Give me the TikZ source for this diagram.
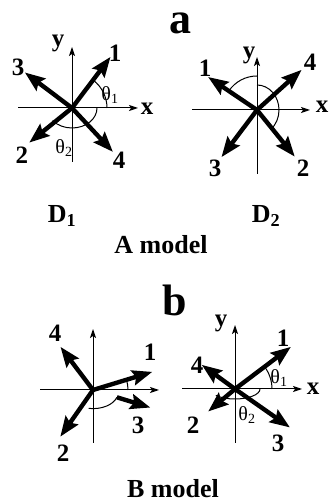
\documentclass[tikz,border=0pt]{standalone}
\usepackage{fontspec}
\setmainfont{Liberation Serif}
\usetikzlibrary{arrows.meta}

\begin{document}
\begin{tikzpicture}[x=1pt, y=1pt,
  vec/.style={line width=4.4pt, -{Stealth[length=20pt, width=15pt, inset=3pt]}},
  ax/.style={line width=1pt, -{Stealth[length=9pt, width=6pt, inset=2pt]}},
  arc/.style={line width=1pt},
  lbl/.style={font=\fontsize{25}{27}\selectfont\bfseries, inner sep=0pt},
  ang/.style={font=\fontsize{20}{22}\selectfont, inner sep=0pt},
  ttl/.style={font=\fontsize{26}{28}\selectfont\bfseries, inner sep=0pt},
  big/.style={font=\fontsize{44}{46}\selectfont\bfseries, inner sep=0pt, anchor=base}]
\useasboundingbox (0,0) rectangle (330,502);

% panel a, D1
\begin{scope}[shift={(72,394)}]
\coordinate (o) at (0,0);
\draw[ax] (-54,0) -- (66,0);
\draw[ax] (0,-54) -- (0,61);
\node[lbl] (x) at (75,-1) {x};
\node[lbl] (y) at (-14,65) {y};
\draw[arc] (35,0) arc[start angle=0, end angle=53, radius=35];
\draw[arc] (25,0) arc[start angle=0, end angle=-141, x radius=25, y radius=20];
\coordinate (t1) at (53:64);
\coordinate (t3) at (143:59);
\coordinate (t2) at (219:55);
\coordinate (t4) at (-47:60);
\draw[vec] (o) -- (t1);
\draw[vec] (o) -- (t3);
\draw[vec] (o) -- (t2);
\draw[vec] (o) -- (t4);
\node[lbl] (n1) at (43,55) {1};
\node[lbl] (n3) at (-54,41) {3};
\node[lbl] (n2) at (-50,-47) {2};
\node[lbl] (n4) at (47,-52) {4};
\node[ang] (th1) at (38,13) {θ\textsubscript{1}};
\node[ang] (th2) at (-8,-40) {θ\textsubscript{2}};
\end{scope}

% panel a, D2
\begin{scope}[shift={(257,392)}]
\coordinate (o) at (0,0);
\draw[ax] (-65,0) -- (53,0);
\draw[ax] (0,-64) -- (0,53);
\node[lbl] (x) at (65,3) {x};
\node[lbl] (y) at (-8,55) {y};
\draw[arc] (0,34) arc[start angle=90, end angle=146, radius=34];
\draw[arc] (0,25) arc[start angle=90, end angle=-51, x radius=22, y radius=25];
\coordinate (t1) at (146:59);
\coordinate (t4) at (42:60);
\coordinate (t3) at (233:59);
\coordinate (t2) at (-51:60);
\draw[vec] (o) -- (t1);
\draw[vec] (o) -- (t4);
\draw[vec] (o) -- (t3);
\draw[vec] (o) -- (t2);
\node[lbl] (n1) at (-52,42) {1};
\node[lbl] (n4) at (53,48) {4};
\node[lbl] (n3) at (-42,-58) {3};
\node[lbl] (n2) at (46,-58) {2};
\end{scope}

\node[big] (a) at (180,468) {a};
\node[ttl] (D1) at (62,286) {D\textsubscript{1}};
\node[ttl] (D2) at (266,286) {D\textsubscript{2}};
\node[ttl] (Am) at (161,257) {A model};

% panel b, left
\begin{scope}[shift={(93,112)}]
\coordinate (o) at (0,0);
\draw[ax] (-53,0) -- (66,0);
\draw[ax] (0,-53) -- (0,61);
\draw[arc] (35,0) arc[start angle=0, end angle=17, radius=35];
\draw[arc] (-17:25) arc[start angle=-17, end angle=-100, x radius=25, y radius=16];
\coordinate (t1) at (17:62);
\coordinate (t4) at (127:54);
\coordinate (t2) at (235:57);
\coordinate (s3) at (-17:25);
\coordinate (t3) at (-17:60);
\draw[vec] (o) -- (t1);
\draw[vec] (o) -- (t4);
\draw[vec] (o) -- (t2);
\draw[vec] (s3) -- (t3);
\node[lbl] (n4) at (-38,57) {4};
\node[lbl] (n1) at (57,38) {1};
\node[lbl] (n3) at (45,-35) {3};
\node[lbl] (n2) at (-30,-63) {2};
\end{scope}

% panel b, right
\begin{scope}[shift={(235,113)}]
\coordinate (o) at (0,0);
\draw[ax] (-53,0) -- (67,0);
\draw[ax] (0,-54) -- (0,64);
\node[lbl] (x) at (78,0) {x};
\node[lbl] (y) at (-14,66) {y};
\draw[arc] (37,0) arc[start angle=0, end angle=37, radius=37];
\draw[arc] (25,0) arc[start angle=0, end angle=-140, x radius=25, y radius=10];
\coordinate (t1) at (37:70);
\coordinate (t4) at (144:41);
\coordinate (t2) at (220:35);
\coordinate (t3) at (-35:67);
\draw[vec] (o) -- (t1);
\draw[vec] (o) -- (t4);
\draw[vec] (o) -- (t2);
\draw[vec] (o) -- (t3);
\node[lbl] (n1) at (48,51) {1};
\node[lbl] (n4) at (-38,24) {4};
\node[lbl] (n2) at (-42,-36) {2};
\node[lbl] (n3) at (43,-54) {3};
\node[ang] (th1) at (44,11) {θ\textsubscript{1}};
\node[ang] (th2) at (12,-26) {θ\textsubscript{2}};
\end{scope}

\node[big] (b) at (175,186) {b};
\node[ttl] (Bm) at (173,13) {B model};
\end{tikzpicture}
\end{document}
